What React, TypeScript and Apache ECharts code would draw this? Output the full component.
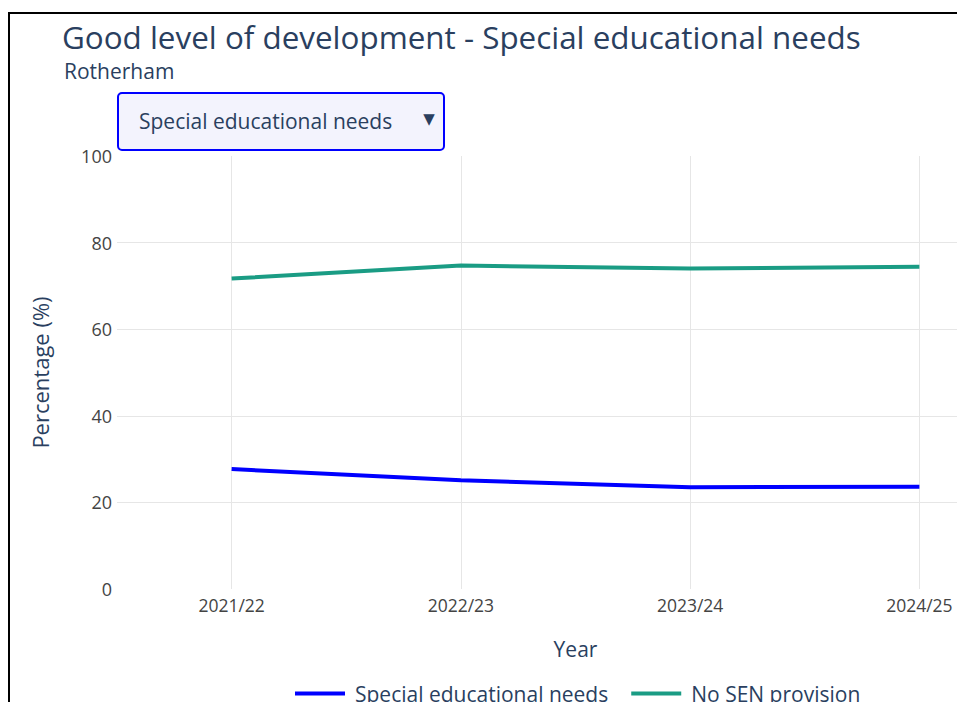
import React, { useEffect, useRef } from "react";
import * as echarts from "echarts";

const categories = ["2021/22", "2022/23", "2023/24", "2024/25"];
const senValues = [27.7, 25.1, 23.5, 23.6];
const noSenValues = [71.7, 74.7, 74.0, 74.4];
const yTicks = [0, 20, 40, 60, 80, 100];

const FONT = "'Open Sans', 'Noto Sans', sans-serif";
const TITLE_COLOR = "#2a3f5f";
const TICK_COLOR = "#444444";
const GRID_COLOR = "#e6e6e6";

export default function App() {
  const ref = useRef<HTMLDivElement>(null);
  useEffect(() => {
    if (!ref.current) return;
    const chart = echarts.init(ref.current, undefined, { renderer: "svg" });
    const idx = categories.map((_, i) => i);
    chart.setOption({
      animation: false,
      textStyle: { fontFamily: FONT },
      title: [
        {
          text: "Good level of development - Special educational needs",
          left: 62,
          top: 21,
          padding: 0,
          textStyle: { fontFamily: FONT, fontSize: 31.4, fontWeight: "normal", color: TITLE_COLOR },
        },
        {
          text: "Rotherham",
          left: 64,
          top: 60,
          padding: 0,
          textStyle: { fontFamily: FONT, fontSize: 21, fontWeight: "normal", color: TITLE_COLOR },
        },
      ],
      grid: { left: 117, top: 156, width: 917, height: 433, containLabel: false },
      xAxis: {
        type: "value",
        min: -0.5,
        max: 3.5,
        name: "Year",
        nameLocation: "middle",
        nameGap: 49,
        nameTextStyle: { fontFamily: FONT, fontSize: 21, color: TITLE_COLOR },
        axisLine: { show: false },
        axisTick: { show: false, customValues: idx },
        axisLabel: {
          customValues: idx,
          formatter: (v: number) => categories[Math.round(v)] ?? "",
          fontFamily: FONT,
          fontSize: 17.5,
          color: TICK_COLOR,
          margin: 7,
        },
        splitLine: { show: true, lineStyle: { color: GRID_COLOR, width: 1 } },
      },
      yAxis: {
        type: "value",
        min: 0,
        max: 100,
        interval: 20,
        name: "Percentage (%)",
        nameLocation: "middle",
        nameGap: 66,
        nameTextStyle: { fontFamily: FONT, fontSize: 22, color: TITLE_COLOR },
        axisLine: { show: false },
        axisTick: { show: false },
        axisLabel: { fontFamily: FONT, fontSize: 18, color: TICK_COLOR, margin: 5 },
        splitLine: {
          show: true,
          lineStyle: {
            color: yTicks.map((t) => (t === 0 || t === 100 ? "rgba(0,0,0,0)" : GRID_COLOR)),
            width: 1,
          },
        },
      },
      legend: {
        left: 295,
        top: 683,
        padding: 0,
        icon: "rect",
        itemWidth: 50,
        itemHeight: 4,
        itemGap: 23,
        textStyle: { fontFamily: FONT, fontSize: 21, color: TITLE_COLOR, padding: [0, 0, 0, 5] },
        data: ["Special educational needs", "No SEN provision"],
      },
      series: [
        {
          name: "Special educational needs",
          type: "line",
          data: senValues.map((v, i) => [i, v]),
          symbol: "none",
          lineStyle: { width: 4, color: "#0000ff" },
          itemStyle: { color: "#0000ff" },
        },
        {
          name: "No SEN provision",
          type: "line",
          data: noSenValues.map((v, i) => [i, v]),
          symbol: "none",
          lineStyle: { width: 4, color: "#1a9c84" },
          itemStyle: { color: "#1a9c84" },
        },
      ],
      graphic: [
        {
          type: "rect",
          shape: { x: 9, y: 13, width: 2000, height: 2000 },
          style: { fill: "none", stroke: "#000000", lineWidth: 2 },
          silent: true,
        },
        {
          type: "group",
          children: [
            {
              type: "rect",
              shape: { x: 118, y: 93, width: 326, height: 57, r: 4 },
              style: { fill: "#f3f3fd", stroke: "#0000ff", lineWidth: 2 },
            },
            {
              type: "text",
              x: 139,
              y: 121,
              style: {
                text: "Special educational needs",
                fontFamily: FONT,
                fontSize: 21,
                fill: TITLE_COLOR,
                verticalAlign: "middle",
                align: "left",
              },
            },
            {
              type: "text",
              x: 429,
              y: 119,
              style: {
                text: "▼",
                fontFamily: "'DejaVu Sans', sans-serif",
                fontSize: 15,
                fill: TITLE_COLOR,
                verticalAlign: "middle",
                align: "center",
              },
            },
          ],
        },
      ],
    });
    return () => chart.dispose();
  }, []);
  return (
    <div style={{ position: "fixed", left: 0, top: 0, width: 957, height: 702, overflow: "hidden", background: "#fff" }}>
      <div ref={ref} style={{ width: 1040, height: 702 }} />
    </div>
  );
}
